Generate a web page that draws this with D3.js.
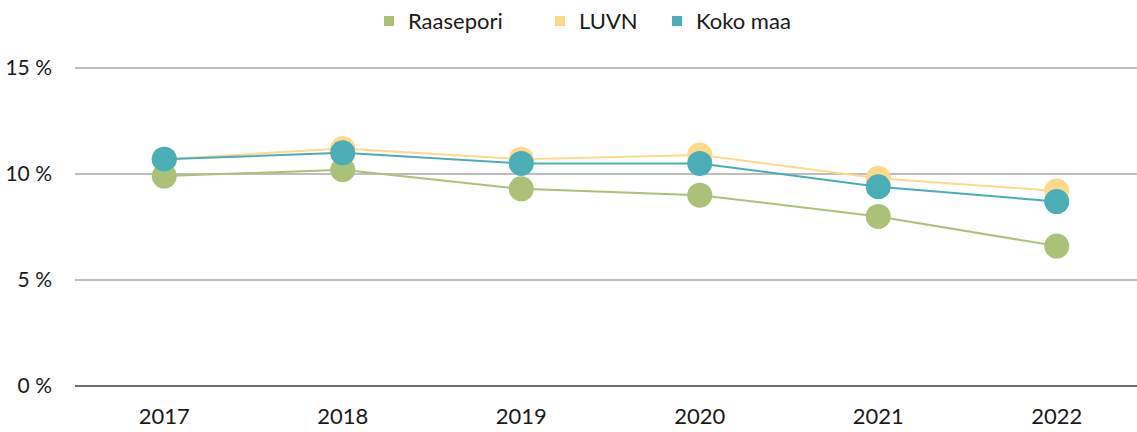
<!DOCTYPE html>
<html><head><meta charset="utf-8">
<script src="https://cdn.jsdelivr.net/npm/d3@7"></script>
<style>body{margin:0;background:#fff;} text{font-family:"Lato","Open Sans",sans-serif;}</style>
</head><body>
<svg id="c" width="1137" height="432"></svg>
<script>
const years = ["2017","2018","2019","2020","2021","2022"];
const raasepori = [9.9, 10.2, 9.3, 9.0, 8.0, 6.6];
const luvn = [10.7, 11.2, 10.7, 10.9, 9.8, 9.2];
const kokoMaa = [10.7, 11.0, 10.5, 10.5, 9.4, 8.7];
const yTicks = [0, 5, 10, 15];
const seriesNames = ["Raasepori", "LUVN", "Koko maa"];
const colors = ["#abc177", "#ffd98a", "#4badb6"];
const seriesData = [raasepori, luvn, kokoMaa];

const svg = d3.select("#c");
const x = d3.scaleBand().domain(years).range([75, 1146]);
const y = d3.scaleLinear().domain([0, 15]).range([386, 68]);

// grid
svg.append("g").selectAll("line").data(yTicks).join("line")
  .attr("x1", 75).attr("x2", 1137)
  .attr("y1", d => y(d)).attr("y2", d => y(d))
  .attr("stroke", d => d === 0 ? "#6e6e6e" : "#bdbdbd")
  .attr("stroke-width", 2);

// y labels
svg.append("g").selectAll("text").data(yTicks).join("text")
  .attr("x", 52).attr("y", d => y(d) + 7)
  .attr("text-anchor", "end").attr("font-size", 21).attr("fill", "#1a1a1a")
  .text(d => d + " %");

// x labels
svg.append("g").selectAll("text").data(years).join("text")
  .attr("x", d => x(d) + x.bandwidth()/2).attr("y", 424)
  .attr("text-anchor", "middle").attr("font-size", 22).attr("fill", "#1a1a1a")
  .text(d => d);

const line = d3.line().x((d,i) => x(years[i]) + x.bandwidth()/2).y(d => y(d));
seriesData.forEach((s, k) => {
  const g = svg.append("g");
  g.append("path").attr("d", line(s)).attr("fill", "none")
    .attr("stroke", colors[k]).attr("stroke-width", 2);
  g.selectAll("circle").data(s).join("circle")
    .attr("cx", (d,i) => x(years[i]) + x.bandwidth()/2)
    .attr("cy", d => y(d)).attr("r", 12.5).attr("fill", colors[k]);
});

// legend
const legX = [384, 555, 672];
const lg = svg.append("g");
seriesNames.forEach((n, k) => {
  lg.append("rect").attr("x", legX[k]).attr("y", 16).attr("width", 10).attr("height", 10).attr("fill", colors[k]);
  lg.append("text").attr("x", legX[k] + 24).attr("y", 29)
    .attr("font-size", 22).attr("fill", "#1a1a1a").text(n);
});
</script>
</body></html>
